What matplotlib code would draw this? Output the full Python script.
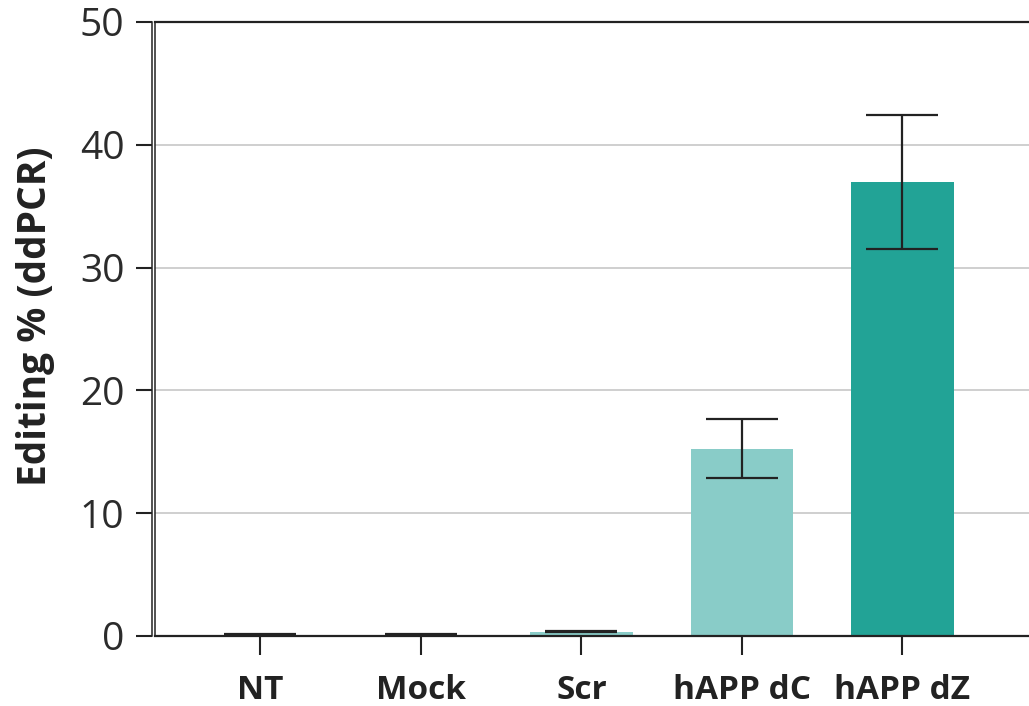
import matplotlib
matplotlib.use("Agg")
import matplotlib.pyplot as plt

plt.rcParams['font.family'] = ['Open Sans', 'DejaVu Sans']

groups = ["NT", "Mock", "Scr", "hAPP dC", "hAPP dZ"]
editing = [0.12, 0.12, 0.33, 15.25, 37.0]
editing_err = [0.02, 0.02, 0.04, 2.42, 5.45]
colors = ["#89ccc8", "#89ccc8", "#89ccc8", "#89ccc8", "#22a396"]
y_ticks = [0, 10, 20, 30, 40, 50]

ink = "#222222"

fig = plt.figure(figsize=(10.29, 7.06), dpi=100)
# axes run past the right edge of the figure on purpose
ax = fig.add_axes([155 / 1029, 1 - 636 / 706, (1080 - 155) / 1029, (636 - 22) / 706])

x = list(range(len(groups)))
ax.bar(x, editing, width=0.64, color=colors, zorder=2)
ax.errorbar(x, editing, yerr=editing_err, fmt="none", ecolor=ink,
            elinewidth=1.6, capsize=26, capthick=1.6, zorder=3)

ax.set_xlim(-0.657, 5.106)
ax.set_ylim(0, 50)
ax.set_yticks(y_ticks)
ax.set_xticks(x)
ax.set_xticklabels(groups, fontsize=24, fontweight="bold", color=ink)
ax.tick_params(axis="y", labelsize=28, length=11.5, width=1.5, pad=8,
               colors=ink, labelcolor="#2b2b2b")
ax.tick_params(axis="x", length=13.5, width=1.5, pad=14, colors=ink)

ax.grid(axis="y", color="#cccccc", linewidth=1.3, zorder=0)
ax.set_axisbelow(True)

for side in ["top", "bottom"]:
    ax.spines[side].set_color(ink)
    ax.spines[side].set_linewidth(1.6)
ax.spines["right"].set_visible(False)
ax.spines["left"].set_color(ink)
ax.spines["left"].set_linewidth(1.1)
ax.spines["left"].set_position(("outward", 2.5))
# second, inner rule of the left axis
ax.axvline(ax.get_xlim()[0], color=ink, linewidth=1.1, clip_on=False, zorder=4)

ax.set_ylabel("Editing % (ddPCR)", fontsize=28, fontweight="bold", color=ink)
ax.yaxis.set_label_coords(-0.108, 0.52)

fig.savefig("out.png", dpi=100)
